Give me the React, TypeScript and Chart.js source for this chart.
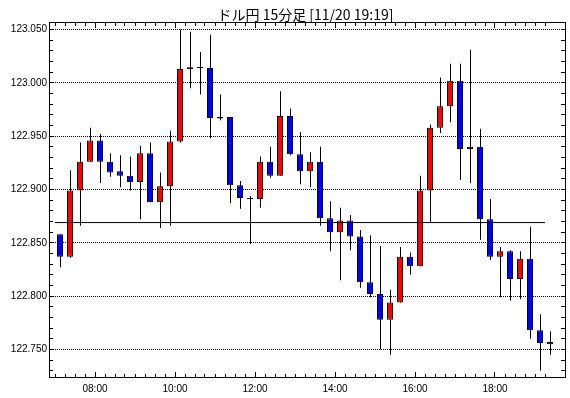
import React, { useEffect, useRef } from 'react';
import { Chart, registerables } from 'chart.js';

Chart.register(...registerables);

const chartTitle = 'ドル円 15分足 [11/20 19:19]';

const times = [
  '07:00', '07:15', '07:30', '07:45', '08:00', '08:15', '08:30', '08:45',
  '09:00', '09:15', '09:30', '09:45', '10:00', '10:15', '10:30', '10:45',
  '11:00', '11:15', '11:30', '11:45', '12:00', '12:15', '12:30', '12:45',
  '13:00', '13:15', '13:30', '13:45', '14:00', '14:15', '14:30', '14:45',
  '15:00', '15:15', '15:30', '15:45', '16:00', '16:15', '16:30', '16:45',
  '17:00', '17:15', '17:30', '17:45', '18:00', '18:15', '18:30', '18:45',
  '19:00', '19:15',
];

const opens = [
  122.858, 122.837, 122.899, 122.926, 122.946, 122.926, 122.917, 122.913,
  122.907, 122.934, 122.888, 122.903, 122.945, 123.013, 123.014, 123.014,
  122.968, 122.968, 122.904, 122.891, 122.891, 122.926, 122.913, 122.969,
  122.933, 122.917, 122.926, 122.873, 122.860, 122.871, 122.856, 122.813,
  122.802, 122.778, 122.794, 122.837, 122.828, 122.899, 122.958, 122.978,
  123.002, 122.938, 122.940, 122.872, 122.837, 122.842, 122.816, 122.835,
  122.768, 122.757,
];
const highs = [
  122.858, 122.918, 122.944, 122.958, 122.952, 122.934, 122.932, 122.931,
  122.941, 122.944, 122.916, 122.955, 123.050, 123.048, 123.029, 123.045,
  122.989, 122.968, 122.908, 122.894, 122.931, 122.940, 122.992, 122.976,
  122.954, 122.935, 122.940, 122.889, 122.883, 122.876, 122.862, 122.857,
  122.847, 122.806, 122.846, 122.841, 122.913, 122.961, 123.005, 123.018,
  123.018, 123.031, 122.957, 122.891, 122.846, 122.843, 122.842, 122.865,
  122.783, 122.767,
];
const lows = [
  122.827, 122.836, 122.866, 122.926, 122.906, 122.912, 122.902, 122.899,
  122.872, 122.888, 122.864, 122.866, 122.944, 122.995, 122.989, 122.948,
  122.965, 122.887, 122.882, 122.849, 122.883, 122.911, 122.913, 122.932,
  122.905, 122.902, 122.866, 122.842, 122.815, 122.843, 122.808, 122.799,
  122.750, 122.745, 122.794, 122.820, 122.828, 122.869, 122.953, 122.963,
  122.909, 122.906, 122.853, 122.834, 122.799, 122.796, 122.797, 122.760,
  122.730, 122.745,
];
const closes = [
  122.837, 122.899, 122.926, 122.946, 122.926, 122.916, 122.913, 122.907,
  122.934, 122.888, 122.903, 122.945, 123.013, 123.0145, 123.014, 122.967,
  122.9665, 122.904, 122.892, 122.891, 122.926, 122.913, 122.969, 122.933,
  122.917, 122.926, 122.873, 122.860, 122.871, 122.856, 122.813, 122.802,
  122.778, 122.794, 122.837, 122.828, 122.899, 122.958, 122.978, 123.002,
  122.938, 122.940, 122.872, 122.837, 122.842, 122.816, 122.835, 122.768,
  122.756, 122.755,
];

const refLineValue = 122.869;
const refLineFrom = -0.5;
const refLineTo = 48.5;

const xLabels = ['08:00', '10:00', '12:00', '14:00', '16:00', '18:00'];
const yLabels = ['122.750', '122.800', '122.850', '122.900', '122.950', '123.000', '123.050'];
const yTickValues = [
  122.73, 122.74, 122.75, 122.76, 122.77, 122.78, 122.79, 122.8, 122.81, 122.82,
  122.83, 122.84, 122.85, 122.86, 122.87, 122.88, 122.89, 122.9, 122.91, 122.92,
  122.93, 122.94, 122.95, 122.96, 122.97, 122.98, 122.99, 123.0, 123.01, 123.02,
  123.03, 123.04, 123.05,
];

const yMin = 122.72328;
const yMax = 123.05703;
const xMin = -1.1;
const xMax = 50.6;

const UP = '#ff0000';
const DOWN = '#0000ff';

function yLabelFor(v: number): string {
  const s = Number(v).toFixed(3);
  return yLabels.includes(s) ? s : '';
}

function bodyColor(i: number): string {
  if (closes[i] > opens[i]) return UP;
  if (closes[i] < opens[i]) return DOWN;
  return '#000000';
}

const framePlugin = {
  id: 'frameTicks',
  beforeDatasetDraw(chart: any, args: any) {
    if (args.index === 2) {
      chart.ctx.save();
      chart.ctx.translate(0.5, 0);
    }
  },
  afterDatasetDraw(chart: any, args: any) {
    if (args.index === 2) chart.ctx.restore();
  },
  afterDraw(chart: any) {
    const { ctx, chartArea, scales } = chart;
    const { left, right, top, bottom } = chartArea;
    const xs = scales.x;
    const ys = scales.y;
    ctx.save();
    ctx.strokeStyle = '#000';
    ctx.lineWidth = 1;
    ctx.beginPath();
    for (const t of ys.ticks) {
      const py = Math.floor(ys.getPixelForValue(t.value)) + 0.5;
      ctx.moveTo(left, py);
      ctx.lineTo(left + 4, py);
      ctx.moveTo(right, py);
      ctx.lineTo(right - 5, py);
    }
    for (const t of xs.ticks) {
      const px = Math.floor(xs.getPixelForValue(t.value)) + 0.5;
      const len = t.label ? 5 : 3;
      ctx.moveTo(px, bottom);
      ctx.lineTo(px, bottom - 1 - len);
      ctx.moveTo(px, top);
      ctx.lineTo(px, top + 1 + len);
    }
    ctx.stroke();
    ctx.strokeRect(left + 0.5, top + 0.5, right - left - 1, bottom - top - 1);
    ctx.fillStyle = '#000';
    ctx.font = '14px "Noto Sans CJK JP"';
    ctx.textAlign = 'center';
    ctx.textBaseline = 'middle';
    ctx.fillText(chartTitle, (left + right) / 2 - 2, 14.5);
    ctx.restore();
  },
};

export default function App() {
  const canvasRef = useRef<HTMLCanvasElement | null>(null);

  useEffect(() => {
    const canvas = canvasRef.current;
    if (!canvas) return;
    const chart = new Chart(canvas, {
      type: 'bar',
      data: {
        datasets: [
          {
            type: 'line',
            label: 'ref',
            data: [
              { x: refLineFrom, y: refLineValue },
              { x: refLineTo, y: refLineValue },
            ],
            borderColor: '#000',
            borderWidth: 1,
            pointRadius: 0,
            fill: false,
          } as any,
          {
            type: 'bar',
            label: 'body',
            data: times.map((_, i) => ({ x: i, y: [opens[i], closes[i]] })),
            backgroundColor: (c: any) => bodyColor(c.dataIndex),
            borderColor: '#000',
            borderWidth: 1,
            borderSkipped: false,
            barThickness: 6,
            grouped: false,
            minBarLength: 1,
            inflateAmount: 0,
          } as any,
          {
            type: 'bar',
            label: 'wick',
            data: times.map((_, i) => ({ x: i, y: [lows[i], highs[i]] })),
            backgroundColor: '#000',
            borderWidth: 0,
            barThickness: 1,
            grouped: false,
            inflateAmount: 0,
          } as any,
        ],
      },
      options: {
        responsive: false,
        animation: false,
        events: [],
        layout: { padding: { top: 22, right: 4, left: 0, bottom: 0 } },
        plugins: {
          legend: { display: false },
          tooltip: { enabled: false },
          title: { display: false },
        },
        scales: {
          x: {
            type: 'linear',
            min: xMin,
            max: xMax,
            offset: false,
            grid: { display: false, drawTicks: false, offset: false },
            border: { display: false },
            afterBuildTicks: (s: any) => {
              s.ticks = times.map((_, i) => ({ value: i - 0.5 }));
            },
            afterFit: (s: any) => {
              s.height = 20;
            },
            ticks: {
              autoSkip: false,
              maxRotation: 0,
              minRotation: 0,
              padding: 5,
              color: '#000',
              font: { family: 'Liberation Sans', size: 10 },
              callback: (v: any) => {
                const t = times[Math.round(Number(v) + 0.5)];
                return xLabels.includes(t) ? t : '';
              },
            },
          },
          y: {
            type: 'linear',
            min: yMin,
            max: yMax,
            grid: {
              drawTicks: false,
              lineWidth: 1,
              color: (c: any) => (c.tick && yLabelFor(c.tick.value) ? '#000' : 'rgba(0,0,0,0)'),
            },
            border: { display: false, dash: [1, 1] },
            afterBuildTicks: (s: any) => {
              s.ticks = yTickValues.map((v) => ({ value: v }));
            },
            afterFit: (s: any) => {
              s.width = 49;
            },
            ticks: {
              autoSkip: false,
              padding: 2,
              color: '#000',
              font: { family: 'Liberation Sans', size: 10 },
              callback: (v: any) => yLabelFor(Number(v)),
            },
          },
        },
      } as any,
      plugins: [framePlugin],
    });
    return () => chart.destroy();
  }, []);

  return (
    <div style={{ position: 'absolute', left: 0, top: 0, width: 570, height: 398, background: '#fff' }}>
      <canvas ref={canvasRef} width={570} height={398} style={{ display: 'block' }} />
    </div>
  );
}
